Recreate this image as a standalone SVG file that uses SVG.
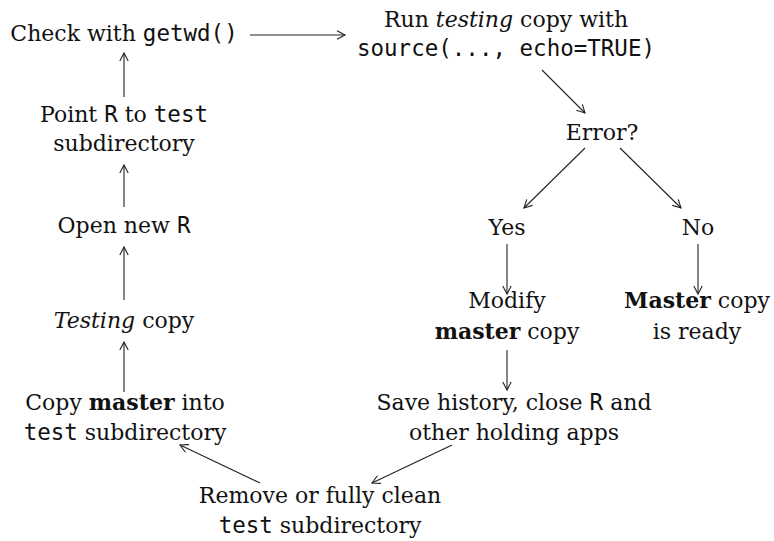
<svg xmlns="http://www.w3.org/2000/svg" width="774" height="541" viewBox="0 0 774 541">
<defs>
<style>
text{font-family:"DejaVu Serif","Liberation Serif",serif;font-size:22px;fill:#111;text-anchor:middle}
.m{font-family:"DejaVu Sans Mono","Liberation Mono",monospace;font-size:22.5px}
.b{font-weight:bold}
.i{font-style:italic}
.e{stroke:#222;stroke-width:1.1;fill:none;marker-end:url(#ah)}
</style>
<marker id="ah" markerUnits="userSpaceOnUse" markerWidth="12" markerHeight="12" viewBox="-10 -6 12 12" refX="0" refY="0" orient="auto">
<path d="M-8,-4.2 L0,0 L-8,4.2" fill="none" stroke="#222" stroke-width="1.1"/>
</marker>
</defs>
<rect width="774" height="541" fill="#fff"/>
<g id="connectors">
<line class="e" x1="250" y1="35" x2="345" y2="35"/>
<line class="e" x1="542" y1="70" x2="585" y2="113"/>
<line class="e" x1="585" y1="148" x2="524" y2="208"/>
<line class="e" x1="620" y1="148" x2="681" y2="208"/>
<line class="e" x1="507" y1="244" x2="507" y2="294"/>
<line class="e" x1="698" y1="244" x2="698" y2="294"/>
<line class="e" x1="507" y1="350" x2="507" y2="390"/>
<line class="e" x1="452" y1="445" x2="372" y2="483"/>
<line class="e" x1="260" y1="483" x2="180" y2="445"/>
<line class="e" x1="124" y1="392" x2="124" y2="342"/>
<line class="e" x1="124" y1="300" x2="124" y2="247"/>
<line class="e" x1="124" y1="207" x2="124" y2="165"/>
<line class="e" x1="124" y1="97" x2="124" y2="53"/>
</g>
<g id="check"><text x="124" y="41">Check with <tspan class="m">getwd()</tspan></text></g>
<g id="run"><text x="506" y="27">Run <tspan class="i">testing</tspan> copy with</text><text x="506" y="56" class="m">source(..., echo=TRUE)</text></g>
<g id="error"><text x="602" y="140">Error?</text></g>
<g id="yes"><text x="507" y="235">Yes</text></g>
<g id="no"><text x="698" y="235">No</text></g>
<g id="modify"><text x="507" y="308">Modify</text><text x="507" y="339"><tspan class="b">master</tspan> copy</text></g>
<g id="ready"><text x="697" y="308"><tspan class="b">Master</tspan> copy</text><text x="697" y="339">is ready</text></g>
<g id="save"><text x="514" y="410">Save history, close <tspan class="m">R</tspan> and</text><text x="514" y="440">other holding apps</text></g>
<g id="remove"><text x="320" y="503">Remove or fully clean</text><text x="320" y="533"><tspan class="m">test</tspan> subdirectory</text></g>
<g id="copymaster"><text x="125" y="410">Copy <tspan class="b">master</tspan> into</text><text x="125" y="440"><tspan class="m">test</tspan> subdirectory</text></g>
<g id="testing"><text x="124" y="328"><tspan class="i">Testing</tspan> copy</text></g>
<g id="opennew"><text x="124" y="233">Open new <tspan class="m">R</tspan></text></g>
<g id="point"><text x="124" y="122">Point <tspan class="m">R</tspan> to <tspan class="m">test</tspan></text><text x="124" y="151">subdirectory</text></g>
</svg>
